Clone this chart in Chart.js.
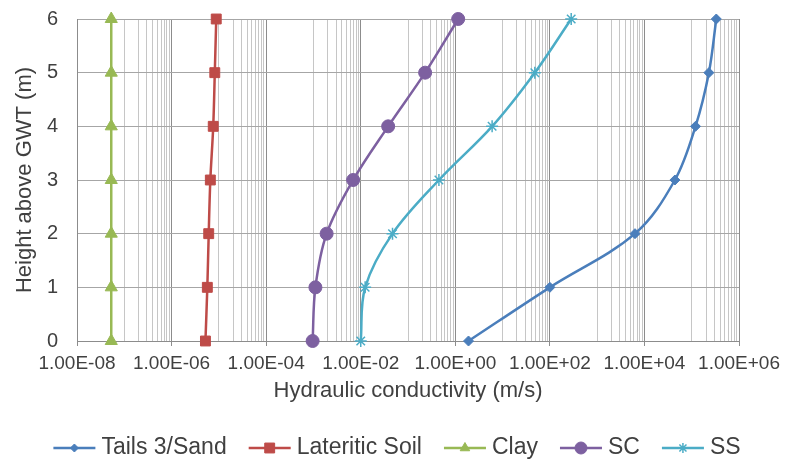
<!DOCTYPE html>
<html>
<head>
<meta charset="utf-8">
<script src="https://cdn.jsdelivr.net/npm/chart.js@4/dist/chart.umd.min.js"></script>
<style>
  html, body { margin: 0; padding: 0; background: #ffffff; }
  #wrap { width: 786px; height: 463px; }
</style>
</head>
<body>
<div id="wrap"><canvas id="c" width="786" height="463"></canvas></div>
<script>
// Height above groundwater table (m)
const heights = [0, 1, 2, 3, 4, 5, 6];

// Hydraulic conductivity (m/s) at each height, per material
const tailsSand = [1.9, 100, 6300, 44000, 120000, 230000, 330000];
const lateriticSoil = [5.2e-6, 5.7e-6, 6.1e-6, 6.6e-6, 7.6e-6, 8.2e-6, 8.8e-6];
const clay = [5.3e-8, 5.3e-8, 5.3e-8, 5.3e-8, 5.3e-8, 5.3e-8, 5.3e-8];
const sc = [9.6e-4, 1.1e-3, 1.9e-3, 6.9e-3, 3.8e-2, 0.23, 1.15];
const ss = [1.0e-2, 1.24e-2, 4.7e-2, 0.45, 6.0, 48, 282];

const seriesNames = ['Tails 3/Sand', 'Lateritic Soil', 'Clay', 'SC', 'SS'];

// Labelled x-axis ticks (every second decade)
const xTickValues = [1e-8, 1e-6, 1e-4, 1e-2, 1, 1e2, 1e4, 1e6];
const xTickLabels = ['1.00E-08', '1.00E-06', '1.00E-04', '1.00E-02',
                     '1.00E+00', '1.00E+02', '1.00E+04', '1.00E+06'];

const FONT = "'Liberation Sans', Arial, sans-serif";
const TEXT = '#404040';

const styles = [
  { color: '#4A7EBB', pointStyle: 'rectRot',  radius: 5,   legendRadius: 4 },
  { color: '#BE4B48', pointStyle: 'rect',     radius: 7,   legendRadius: 7 },
  { color: '#98B954', pointStyle: 'triangle', radius: 7,   legendRadius: 5.5 },
  { color: '#7D60A0', pointStyle: 'circle',   radius: 6.5, legendRadius: 6 },
  { color: '#4BACC6', pointStyle: 'star',     radius: 6,   legendRadius: 5 }
];

const seriesValues = [tailsSand, lateriticSoil, clay, sc, ss];

const datasets = seriesValues.map((vals, i) => ({
  label: seriesNames[i],
  data: heights.map((h, j) => ({ x: vals[j], y: h })),
  showLine: true,
  tension: 0.35,
  borderColor: styles[i].color,
  backgroundColor: styles[i].color,
  borderWidth: 2.5,
  pointStyle: styles[i].pointStyle,
  pointRadius: styles[i].radius,
  pointHoverRadius: styles[i].radius,
  pointBorderColor: styles[i].color,
  pointBackgroundColor: styles[i].color,
  pointBorderWidth: styles[i].pointStyle === 'star' ? 1.5 : 1,
  fill: false,
  clip: false
}));

// Gridline positions: labelled decades plus 1..9 x the odd decades in between
const gridTicks = [];
xTickValues.forEach((v, i) => {
  gridTicks.push({ value: v, lvl: 1 });
  if (i < xTickValues.length - 1) {
    for (let k = 1; k <= 9; k++) gridTicks.push({ value: k * v * 10, lvl: 0 });
  }
});
const labelFor = v => {
  const idx = xTickValues.findIndex(t => Math.abs(Math.log10(t) - Math.log10(v)) < 1e-6);
  return idx >= 0 ? xTickLabels[idx] : '';
};

// Legend drawn under the x-axis title: short line with the series marker, then its name
const bottomLegend = {
  id: 'bottomLegend',
  afterDraw(chart) {
    const ctx = chart.ctx;
    const y = 448;
    const symW = 42, gapText = 6, gapItem = 22;
    ctx.save();
    ctx.font = '23px ' + FONT;
    const widths = chart.data.datasets.map(d => ctx.measureText(d.label).width);
    let total = 0;
    widths.forEach((w, i) => { total += symW + gapText + w + (i < widths.length - 1 ? gapItem : 0); });
    let x = 397 - total / 2;
    chart.data.datasets.forEach((d, i) => {
      ctx.strokeStyle = d.borderColor;
      ctx.lineWidth = 2.5;
      ctx.beginPath();
      ctx.moveTo(x, y);
      ctx.lineTo(x + symW, y);
      ctx.stroke();
      ctx.fillStyle = d.backgroundColor;
      ctx.strokeStyle = d.borderColor;
      ctx.lineWidth = d.pointBorderWidth;
      Chart.helpers.drawPoint(ctx, {
        pointStyle: d.pointStyle, rotation: 0,
        radius: styles[i].legendRadius, borderWidth: d.pointBorderWidth
      }, x + symW / 2, y);
      ctx.fillStyle = TEXT;
      ctx.textAlign = 'left';
      ctx.textBaseline = 'middle';
      ctx.fillText(d.label, x + symW + gapText, y);
      x += symW + gapText + widths[i] + gapItem;
    });
    ctx.restore();
  }
};

new Chart(document.getElementById('c'), {
  type: 'scatter',
  data: { datasets },
  plugins: [bottomLegend],
  options: {
    responsive: false,
    devicePixelRatio: 1,
    animation: false,
    layout: { autoPadding: false, padding: { left: 0, right: 45, top: 19, bottom: 52 } },
    plugins: {
      legend: { display: false },
      tooltip: { enabled: false }
    },
    scales: {
      x: {
        type: 'logarithmic',
        min: 1e-8,
        max: 1e6,
        afterBuildTicks: scale => { scale.ticks = gridTicks.map(t => ({ value: t.value, lvl: t.lvl })); },
        afterFit: scale => { scale.height = 70; },
        ticks: {
          autoSkip: false,
          maxRotation: 0,
          minRotation: 0,
          padding: 6,
          color: TEXT,
          font: { family: FONT, size: 19 },
          callback: value => labelFor(value)
        },
        grid: {
          color: c => (c.tick && c.tick.lvl === 1) ? '#8c8c8c' : '#c6c6c6',
          tickColor: c => (c.tick && c.tick.lvl === 1) ? '#8c8c8c' : 'rgba(0,0,0,0)',
          tickLength: 5,
          lineWidth: 1
        },
        border: { color: '#8c8c8c', width: 1 },
        title: {
          display: true,
          text: 'Hydraulic conductivity (m/s)',
          color: TEXT,
          font: { family: FONT, size: 22 },
          padding: { top: 0, bottom: 7 }
        }
      },
      y: {
        type: 'linear',
        min: 0,
        max: 6,
        afterFit: scale => { scale.width = 77; },
        ticks: {
          stepSize: 1,
          padding: 0,
          color: TEXT,
          font: { family: FONT, size: 20 }
        },
        grid: {
          color: '#a6a6a6',
          drawTicks: true,
          tickLength: 19,
          tickColor: 'rgba(0,0,0,0)',
          lineWidth: 1
        },
        border: { color: '#8c8c8c', width: 1 },
        title: {
          display: true,
          text: 'Height above GWT (m)',
          color: TEXT,
          font: { family: FONT, size: 22 },
          padding: { top: 12, bottom: 0 }
        }
      }
    }
  }
});
</script>
</body>
</html>
